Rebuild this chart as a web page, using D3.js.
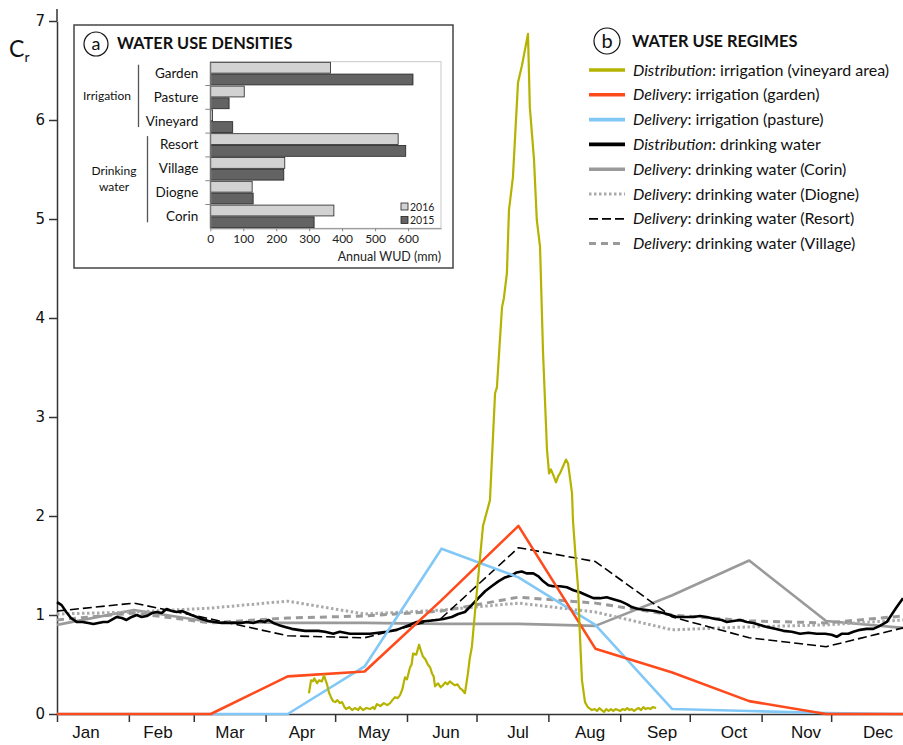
<!DOCTYPE html>
<html><head><meta charset="utf-8">
<script src="https://cdn.jsdelivr.net/npm/d3@7/dist/d3.min.js"></script>
<style>body{margin:0;background:#fff} svg{display:block}</style>
</head><body>
<svg id="chart" width="903" height="745"></svg>
<script>
// ---------------- DATA ----------------
const months = ["Jan","Feb","Mar","Apr","May","Jun","Jul","Aug","Sep","Oct","Nov","Dec"];
const monthLengths = [31,28,31,30,31,30,31,31,30,31,30,31];
const yTicks = [0,1,2,3,4,5,6,7];

// Monthly delivery regimes (Cr), one value per month
const gardenDelivery  = [0,0,0,0.38,0.43,1.15,1.90,0.66,0.42,0.13,0,0];
const pastureDelivery = [0,0,0,0,0.48,1.67,1.38,0.90,0.05,0.03,0.01,0];
const corinDelivery   = [0.90,1.05,0.93,0.92,0.92,0.91,0.91,0.89,1.20,1.55,0.94,0.87];
const diogneDelivery  = [1.01,1.03,1.07,1.14,1.01,1.05,1.12,1.03,0.85,0.88,0.90,0.95];
const resortDelivery  = [1.04,1.12,0.96,0.79,0.77,0.97,1.68,1.54,0.98,0.77,0.68,0.87];
const villageDelivery = [0.95,1.02,0.92,0.97,0.99,1.04,1.18,1.12,1.00,0.94,0.92,0.99];

// Daily distribution regimes: [day of year, Cr]
const vineyardDistribution = [
 [108.7,0.21],[109.6,0.34],[110.4,0.33],[111,0.36],[112.2,0.31],[113,0.34],[114.3,0.33],[115.2,0.39],
 [116.5,0.30],[117.3,0.22],[118.2,0.17],[119.1,0.13],[120,0.12],[121,0.14],[122,0.11],[123,0.12],
 [124,0.07],[124.7,0.05],[126,0.07],[127.3,0.04],[128.5,0.06],[130,0.04],[130.7,0.07],[132,0.04],
 [133.5,0.06],[135,0.05],[136.3,0.07],[137,0.05],[138,0.10],[139.5,0.08],[141,0.11],[142.5,0.09],
 [143.7,0.11],[144.7,0.14],[145.8,0.17],[147,0.16],[148,0.19],[149,0.25],[150.1,0.37],[151,0.35],
 [152.3,0.47],[153,0.50],[153.6,0.61],[155,0.60],[156.2,0.70],[157,0.64],[157.9,0.58],[159,0.55],
 [160,0.50],[161,0.47],[161.8,0.41],[162.5,0.38],[163.1,0.28],[164.4,0.31],[165.5,0.27],[166.5,0.29],
 [167.5,0.32],[168.5,0.30],[169.5,0.33],[170.5,0.31],[171.7,0.29],[172.8,0.30],[173.9,0.26],[175,0.24],
 [176,0.21],[177.3,0.41],[178,0.55],[179,0.68],[180.3,1.02],[181,1.20],[182,1.45],[183.8,1.90],
 [186.8,2.16],[189,3.24],[189.8,3.30],[192,4.11],[192.8,4.20],[194.1,4.45],[195,5.09],[196.7,5.42],
 [198.9,6.38],[200.6,6.55],[201.5,6.66],[203.2,6.87],[204,6.13],[205.8,5.60],[207,4.99],[208.4,4.72],
 [209.7,3.65],[211.4,2.67],[212.3,2.43],[213.1,2.47],[214,2.42],[215.3,2.34],[216.2,2.40],[217,2.43],
 [218.3,2.50],[219.6,2.57],[220.5,2.53],[222.2,2.23],[222.6,1.96],[223.7,1.60],[224.8,1.28],[225.6,0.80],
 [226.5,0.34],[227.8,0.12],[229,0.07],[230.8,0.04],[232,0.05],[233,0.03],[234,0.06],[235,0.04],
 [236,0.02],[237,0.05],[238,0.03],[239,0.05],[240,0.03],[241,0.05],[242,0.04],[243,0.03],[244,0.05],
 [245,0.04],[246,0.06],[247,0.04],[248,0.05],[249,0.03],[250,0.05],[251,0.06],[252,0.04],[253,0.07],
 [254,0.05],[255,0.06],[256,0.05],[257,0.07],[258.5,0.06]
];
const drinkingDistribution = [
 [0,1.13],[2,1.10],[4,1.03],[6,0.97],[8.5,0.93],[11,0.93],[13.5,0.92],[15.7,0.91],[17.8,0.92],[20,0.93],
 [22,0.93],[24.3,0.96],[25.8,0.98],[28,0.97],[30,0.95],[32.2,0.98],[34.4,1.00],[36.5,0.98],[38.7,0.99],
 [41,1.02],[43,1.03],[45.2,1.02],[47.3,1.06],[49.5,1.04],[51.6,1.03],[53.8,1.04],[56,1.02],[58,1.00],
 [60.3,0.98],[62.4,0.96],[65.3,0.94],[68.2,0.93],[71,0.92],[74,0.92],[77.5,0.92],[79.7,0.92],[81.8,0.93],
 [84.7,0.92],[87.6,0.94],[89.7,0.93],[91.2,0.95],[93.3,0.92],[95.5,0.90],[98.4,0.88],[101.3,0.86],
 [104,0.85],[107,0.84],[110,0.84],[112.7,0.84],[115.6,0.83],[119.2,0.81],[122,0.83],[126.4,0.81],
 [130.7,0.81],[135,0.81],[138.6,0.82],[142.2,0.83],[146.6,0.85],[151,0.89],[155.2,0.93],[159.5,0.94],
 [163.8,0.95],[166.7,0.96],[170.3,0.98],[173.1,1.01],[176,1.03],[178.9,1.10],[181.8,1.17],[184.7,1.24],
 [187.5,1.29],[190.4,1.34],[193.3,1.38],[196.2,1.40],[198.3,1.43],[200.5,1.44],[202.6,1.42],[205.5,1.42],
 [207.7,1.39],[209.8,1.34],[212,1.30],[214,1.29],[217,1.29],[220,1.28],[222.8,1.25],[225.6,1.23],
 [228.5,1.20],[231.4,1.17],[234.3,1.17],[237.2,1.18],[240,1.16],[243,1.14],[245.8,1.11],[248,1.08],
 [250.8,1.06],[254.4,1.05],[258,1.04],[261.6,1.02],[264.5,1.00],[267.4,0.98],[271,0.98],[274.5,0.98],
 [277.4,0.99],[280.3,0.98],[284,0.96],[286.8,0.95],[289,0.93],[291.8,0.94],[294.7,0.95],[297.6,0.93],
 [300.4,0.92],[303.3,0.90],[306.2,0.88],[309.8,0.86],[313.4,0.84],[317,0.83],[320.6,0.81],[324.2,0.82],
 [327.8,0.81],[331.4,0.81],[334.2,0.80],[336.4,0.78],[338.5,0.81],[341.4,0.81],[343.6,0.83],[346.5,0.85],
 [349.3,0.86],[352.2,0.86],[355,0.89],[358,0.93],[360,1.00],[362.3,1.08],[365,1.17]
];

// Inset (a): annual water use densities (mm)
const wudCategories = ["Garden","Pasture","Vineyard","Resort","Village","Diogne","Corin"];
const wud2016 = [365,103,7,570,226,127,375];
const wud2015 = [615,57,68,593,223,130,315];
const wudYears = ["2016","2015"];
const wudTicks = [0,100,200,300,400,500,600];
const wudGroups = [
  {label:["Irrigation"], first:"Garden", last:"Vineyard"},
  {label:["Drinking","water"], first:"Resort", last:"Corin"}
];

// Legend (b)
const legendItems = [
  {key:"vineyard", italic:"Distribution", rest:": irrigation (vineyard area)"},
  {key:"garden",   italic:"Delivery",     rest:": irrigation (garden)"},
  {key:"pasture",  italic:"Delivery",     rest:": irrigation (pasture)"},
  {key:"drinking", italic:"Distribution", rest:": drinking water"},
  {key:"corin",    italic:"Delivery",     rest:": drinking water (Corin)"},
  {key:"diogne",   italic:"Delivery",     rest:": drinking water (Diogne)"},
  {key:"resort",   italic:"Delivery",     rest:": drinking water (Resort)"},
  {key:"village",  italic:"Delivery",     rest:": drinking water (Village)"}
];

// ---------------- STYLES ----------------
const styles = {
  vineyard: {stroke:"#b5b300", width:2.2, dash:null},
  garden:   {stroke:"#ff4a1c", width:2.6, dash:null},
  pasture:  {stroke:"#82c8f7", width:2.6, dash:null},
  drinking: {stroke:"#000000", width:2.6, dash:null},
  corin:    {stroke:"#9a9a9a", width:2.6, dash:null},
  diogne:   {stroke:"#aaaaaa", width:3,   dash:"2.5,2.5"},
  resort:   {stroke:"#000000", width:1.6, dash:"9,4"},
  village:  {stroke:"#9a9a9a", width:3,   dash:"7,5"}
};
const uiFont = "Lato, 'Open Sans', sans-serif";

// ---------------- CHART ----------------
const svg = d3.select("#chart");
const X0 = 57, X1 = 903, Y0 = 714, YTOP = 21;

const dayX = d3.scaleLinear().domain([0,365]).range([X0,X1]);
const monthX = d3.scalePoint().domain(months).range([X0,X1]);
const labelX = d3.scaleBand().domain(months).range([50,914]);
const y = d3.scaleLinear().domain([0,7]).range([Y0,YTOP]);

const monthStarts = d3.cumsum([0].concat(monthLengths.slice(0,11)));

// x axis
const xAxis = svg.append("g").attr("transform",`translate(0,${Y0})`)
  .call(d3.axisBottom(dayX).tickValues(monthStarts).tickSize(8).tickSizeOuter(0).tickFormat(""));
xAxis.selectAll("line,path").attr("stroke","#333").attr("stroke-width",1.5);
svg.append("g").selectAll("text").data(months).join("text")
  .attr("x",d=>labelX(d)+labelX.bandwidth()/2).attr("y",738)
  .attr("text-anchor","middle").attr("font-family","'Liberation Sans', Arial, sans-serif")
  .attr("font-size",17).attr("fill","#111").text(d=>d);

// y axis
const yAxis = svg.append("g").attr("transform",`translate(${X0},0)`)
  .call(d3.axisLeft(y).tickValues(yTicks).tickFormat(d3.format("d")).tickSize(8).tickPadding(4).tickSizeOuter(0));
yAxis.selectAll("line,path").attr("stroke","#333").attr("stroke-width",1.5);
yAxis.selectAll("text").attr("font-family","'DejaVu Sans', Verdana, sans-serif").attr("font-size",15).attr("fill","#111");
svg.append("line").attr("x1",X0).attr("x2",X0).attr("y1",YTOP-12).attr("y2",YTOP).attr("stroke","#333").attr("stroke-width",1.5);

// y label Cr
const cr = svg.append("text").attr("x",9).attr("y",57).attr("font-family",uiFont).attr("font-size",23).attr("fill","#111");
cr.append("tspan").text("C");
cr.append("tspan").attr("font-size",14).attr("dy",5).text("r");

// lines
const monthlyLine = d3.line().x((d,i)=>monthX(months[i])).y(d=>y(d));
const dailyLine = d3.line().x(d=>dayX(d[0])).y(d=>y(d[1]));
function draw(path, key){
  const s = styles[key];
  svg.append("path").attr("d",path).attr("fill","none").attr("stroke",s.stroke)
    .attr("stroke-width",s.width).attr("stroke-dasharray",s.dash).attr("stroke-linejoin","round");
}
draw(monthlyLine(corinDelivery),"corin");
draw(monthlyLine(diogneDelivery),"diogne");
draw(monthlyLine(villageDelivery),"village");
draw(monthlyLine(resortDelivery),"resort");
draw(dailyLine(drinkingDistribution),"drinking");
draw(monthlyLine(pastureDelivery),"pasture");
draw(monthlyLine(gardenDelivery),"garden");
draw(dailyLine(vineyardDistribution),"vineyard");

// ---------------- LEGEND (b) ----------------
const lg = svg.append("g");
lg.append("circle").attr("cx",607).attr("cy",41).attr("r",13).attr("fill","#fff").attr("stroke","#111").attr("stroke-width",1.2);
lg.append("text").attr("x",607).attr("y",47.5).attr("text-anchor","middle").attr("font-family",uiFont).attr("font-size",20).attr("fill","#111").text("b");
lg.append("text").attr("x",632).attr("y",47).attr("font-family",uiFont).attr("font-weight","bold").attr("font-size",16.4).attr("fill","#111").text("WATER USE REGIMES");
legendItems.forEach((it,i)=>{
  const yy = 70 + i*24.8;
  const s = styles[it.key];
  lg.append("line").attr("x1",589).attr("x2",625).attr("y1",yy).attr("y2",yy)
    .attr("stroke",s.stroke).attr("stroke-width",it.key==="resort"?1.8:(s.dash?3:3.6)).attr("stroke-dasharray",s.dash);
  const t = lg.append("text").attr("x",633).attr("y",yy+5.5).attr("font-family",uiFont).attr("font-size",16).attr("fill","#111");
  t.append("tspan").attr("font-style","italic").text(it.italic);
  t.append("tspan").text(it.rest);
});

// ---------------- INSET (a) ----------------
const ins = svg.append("g");
ins.append("rect").attr("x",74).attr("y",25).attr("width",379).attr("height",243).attr("fill","#fff").attr("stroke","#444").attr("stroke-width",1.5);
ins.append("circle").attr("cx",96).attr("cy",44).attr("r",12).attr("fill","#fff").attr("stroke","#111").attr("stroke-width",1.2);
ins.append("text").attr("x",96).attr("y",49.5).attr("text-anchor","middle").attr("font-family",uiFont).attr("font-size",18).attr("fill","#111").text("a");
ins.append("text").attr("x",117).attr("y",49).attr("font-family",uiFont).attr("font-weight","bold").attr("font-size",16.3).attr("fill","#111").text("WATER USE DENSITIES");

const bx = d3.scaleLinear().domain([0,700]).range([210.3,441]);
const by = d3.scaleBand().domain(wudCategories).range([61.7,228.3]);
const bsub = d3.scaleBand().domain(wudYears).range([0,by.bandwidth()]).paddingInner(0.08).paddingOuter(0.05);

// plot frame
ins.append("rect").attr("x",bx(0)).attr("y",61.7).attr("width",bx(700)-bx(0)).attr("height",228.3-61.7)
  .attr("fill","none").attr("stroke","#c8c8c8").attr("stroke-width",1);

const barData = [];
wudCategories.forEach((c,i)=>{
  barData.push({cat:c, year:"2016", v:wud2016[i]});
  barData.push({cat:c, year:"2015", v:wud2015[i]});
});
const barFill = {"2016":"#d2d2d2","2015":"#636363"};
ins.append("g").selectAll("rect").data(barData).join("rect")
  .attr("x",bx(0)).attr("y",d=>by(d.cat)+bsub(d.year)).attr("height",bsub.bandwidth())
  .attr("width",d=>bx(d.v)-bx(0)).attr("fill",d=>barFill[d.year]).attr("stroke","#222").attr("stroke-width",0.8);

// inset axes
const bxAxis = ins.append("g").attr("transform","translate(0,228.3)")
  .call(d3.axisBottom(bx).tickValues(wudTicks).tickSize(3).tickPadding(3).tickSizeOuter(0));
bxAxis.select("path").attr("stroke","#888");
bxAxis.selectAll("line").attr("stroke","#888");
bxAxis.selectAll("text").attr("font-family",uiFont).attr("font-size",12).attr("fill","#222");
ins.append("text").attr("x",441).attr("y",261).attr("text-anchor","end").attr("font-family",uiFont).attr("font-size",12.5).attr("fill","#222").text("Annual WUD (mm)");

const byAxis = ins.append("g").attr("transform",`translate(${bx(0)},0)`)
  .call(d3.axisLeft(by).tickSize(0).tickPadding(12).tickSizeOuter(0));
byAxis.select("path").attr("stroke","#888");
byAxis.selectAll("text").attr("font-family",uiFont).attr("font-size",13.5).attr("fill","#111");
// band separators
ins.append("g").selectAll("line").data(wudCategories.slice(1)).join("line")
  .attr("x1",bx(0)-5).attr("x2",bx(0)).attr("y1",d=>by(d)).attr("y2",d=>by(d)).attr("stroke","#888");

// group brackets
const bracketX = [138.5,147.5];
wudGroups.forEach((g,i)=>{
  const top = by(g.first)+3, bot = by(g.last)+by.bandwidth()-6;
  ins.append("line").attr("x1",bracketX[i]).attr("x2",bracketX[i]).attr("y1",top).attr("y2",bot).attr("stroke","#555").attr("stroke-width",1.3);
  const mid = (top+bot)/2;
  const cx = i===0 ? 107 : 114;
  g.label.forEach((l,j)=>{
    ins.append("text").attr("x",cx).attr("y",mid + 4 + (j-(g.label.length-1)/2)*15.5)
      .attr("text-anchor","middle").attr("font-family",uiFont).attr("font-size",12).attr("fill","#111").text(l);
  });
});

// inset legend
wudYears.forEach((yr,i)=>{
  const yy = 203 + i*13.5;
  ins.append("rect").attr("x",401).attr("y",yy).attr("width",7).attr("height",7).attr("fill",barFill[yr]).attr("stroke","#222").attr("stroke-width",0.8);
  ins.append("text").attr("x",410).attr("y",yy+7.5).attr("font-family",uiFont).attr("font-size",10.5).attr("fill","#222").text(yr);
});
</script>
</body></html>
